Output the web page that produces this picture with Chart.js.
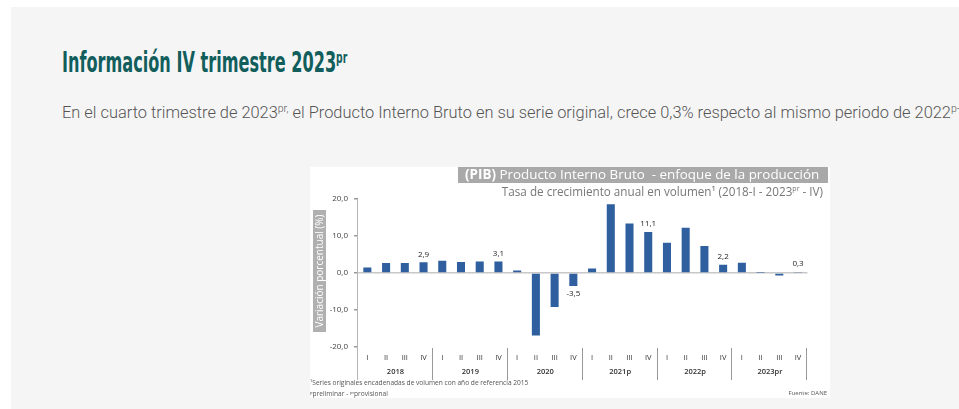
<!DOCTYPE html>
<html lang="es">
<head>
<meta charset="utf-8">
<script src="https://cdn.jsdelivr.net/npm/chart.js@4.4.1/dist/chart.umd.min.js"></script>
<style>
  html, body { margin: 0; padding: 0; background: #fff; overflow: hidden; }
  #panel {
    position: absolute; left: 11px; top: 7px; width: 960px; height: 410px;
    background: #f5f5f5;
  }
  #titulo {
    position: absolute; left: 62px; top: 46px; margin: 0;
    font-family: "Liberation Sans Narrow", "DejaVu Sans Condensed", sans-serif;
    font-weight: bold; font-size: 28px; color: #115e5c; white-space: nowrap;
    transform: scaleX(0.64); transform-origin: left top;
  }
  #titulo sup { font-size: 16px; vertical-align: 9px; }
  #texto {
    position: absolute; left: 62px; top: 103px; margin: 0; width: 897px;
    font-family: Roboto, sans-serif; font-weight: 300; font-size: 16.4px;
    color: #555; white-space: nowrap; overflow: hidden;
  }
  #texto sup { font-size: 10.5px; vertical-align: 6px; line-height: 0; }
  #caja {
    position: absolute; left: 310px; top: 167px; width: 520px; height: 231px;
    background: #fff;
  }
</style>
</head>
<body>
<div id="panel"></div>
<h2 id="titulo">Información IV trimestre 2023<sup>pr</sup></h2>
<p id="texto">En el cuarto trimestre de 2023<sup>pr,</sup> el Producto Interno Bruto en su serie original, crece 0,3% respecto al mismo periodo de 2022<sup>p-</sup></p>
<div id="caja"><canvas id="grafico" width="520" height="231"></canvas></div>
<script>
// Datos: variación anual del PIB (%), por trimestre
const trimestres = ['I', 'II', 'III', 'IV'];
const anios = ['2018', '2019', '2020', '2021p', '2022p', '2023pr'];
const variacion = [
  1.5, 2.7, 2.7, 2.9,
  3.3, 3.0, 3.1, 3.1,
  0.7, -16.9, -9.2, -3.5,
  1.2, 18.6, 13.4, 11.1,
  8.2, 12.2, 7.3, 2.2,
  2.8, 0.1, -0.7, 0.3
];
// índices de las barras que llevan etiqueta (cuarto trimestre)
const conEtiqueta = [3, 7, 11, 15, 19, 23];
const yTicks = [-20, -10, 0, 10, 20];

const labels = [];
anios.forEach(() => trimestres.forEach(t => labels.push(t)));

const fuente = '"Open Sans", sans-serif';

const decoracion = {
  id: 'decoracion',
  afterDraw(chart) {
    const ctx = chart.ctx;
    const area = chart.chartArea;
    ctx.save();
    // barra de título
    ctx.fillStyle = '#a9a9a9';
    ctx.fillRect(148, 0, 370, 16);
    ctx.textBaseline = 'middle';
    ctx.textAlign = 'left';
    ctx.fillStyle = '#fff';
    ctx.font = 'bold 13.4px ' + fuente;
    ctx.fillText('(PIB)', 155, 8.5);
    const w = ctx.measureText('(PIB) ').width;
    ctx.font = '13.4px ' + fuente;
    ctx.fillText('Producto Interno Bruto  - enfoque de la producción', 155 + w, 8.5);

    // subtítulo
    ctx.fillStyle = '#777';
    ctx.textAlign = 'right';
    ctx.font = '11.7px ' + fuente;
    ctx.fillText(' - IV)', 513, 26);
    let px = 513 - ctx.measureText(' - IV)').width;
    ctx.font = '7px ' + fuente;
    ctx.fillText('pr', px, 22);
    px -= ctx.measureText('pr').width;
    ctx.font = '11.7px ' + fuente;
    ctx.fillText('Tasa de crecimiento anual en volumen\u00b9 (2018-I - 2023', px, 26);

    // título eje y
    ctx.fillStyle = '#b0b0b0';
    ctx.fillRect(3, 43, 13, 122);
    ctx.translate(10, 104);
    ctx.rotate(-Math.PI / 2);
    ctx.textAlign = 'center';
    ctx.fillStyle = '#fff';
    ctx.font = '10px ' + fuente;
    ctx.fillText('Variación porcentual (%)', 0, 0.5);
    ctx.setTransform(1, 0, 0, 1, 0, 0);

    // eje y y separadores de años
    ctx.strokeStyle = '#b5b5b5';
    ctx.lineWidth = 1;
    ctx.beginPath();
    ctx.moveTo(Math.round(area.left) - 0.5, area.top);
    ctx.lineTo(Math.round(area.left) - 0.5, 213);
    ctx.stroke();
    const paso = (area.right - area.left) / labels.length;
    ctx.strokeStyle = '#999';
    for (let g = 1; g <= anios.length; g++) {
      const sx = Math.round(area.left + g * 4 * paso) - 0.5;
      ctx.beginPath();
      ctx.moveTo(sx, 181);
      ctx.lineTo(sx, 213);
      ctx.stroke();
    }
    // años
    ctx.fillStyle = '#333';
    ctx.font = '600 7.5px ' + fuente;
    ctx.textAlign = 'center';
    anios.forEach((a, g) => {
      const cx = area.left + (g * 4 + 2) * paso;
      ctx.fillText(a, cx, 205);
    });

    // notas
    ctx.fillStyle = '#555';
    ctx.textAlign = 'left';
    ctx.font = '6.6px ' + fuente;
    ctx.fillText('\u00b9Series originales encadenadas de volumen con año de referencia 2015', 0, 216);
    ctx.fillText('\u1d56preliminar - \u1d56\u02b3provisional', 0, 227);
    ctx.textAlign = 'right';
    ctx.font = '6px ' + fuente;
    ctx.fillText('Fuente: DANE', 517, 226);
    ctx.restore();
  },
  afterDatasetsDraw(chart) {
    const ctx = chart.ctx;
    const meta = chart.getDatasetMeta(0);
    ctx.save();
    ctx.fillStyle = '#222';
    ctx.font = '8px ' + fuente;
    ctx.textAlign = 'center';
    conEtiqueta.forEach(i => {
      const bar = meta.data[i];
      const v = variacion[i];
      const txt = v.toFixed(1).replace('.', ',');
      if (v >= 0) {
        ctx.textBaseline = 'bottom';
        ctx.fillText(txt, bar.x, bar.y - 4);
      } else {
        ctx.textBaseline = 'top';
        ctx.fillText(txt, bar.x, bar.y + 4);
      }
    });
    ctx.restore();
  }
};

new Chart(document.getElementById('grafico'), {
  type: 'bar',
  data: {
    labels: labels,
    datasets: [{
      data: variacion,
      backgroundColor: (c) => {
        const el = c.element;
        if (!el || el.width === undefined) return '#2f5f9e';
        const g = c.chart.ctx.createLinearGradient(el.x - el.width / 2, 0, el.x + el.width / 2, 0);
        g.addColorStop(0, '#24508a');
        g.addColorStop(0.5, '#4a7bbd');
        g.addColorStop(1, '#24508a');
        return g;
      },
      borderWidth: 0,
      barPercentage: 0.43,
      categoryPercentage: 1
    }]
  },
  options: {
    responsive: false,
    animation: false,
    layout: { padding: { top: 32, right: 22.6, left: 0, bottom: 0 } },
    plugins: {
      legend: { display: false },
      title: { display: false },
      tooltip: { enabled: false }
    },
    scales: {
      x: {
        grid: { display: false, drawTicks: false },
        border: { display: false },
        ticks: { color: '#333', font: { family: fuente, size: 7.5 }, padding: 6, maxRotation: 0, autoSkip: false },
        afterFit: (s) => { s.height = 51; }
      },
      y: {
        min: -20,
        max: 20,
        afterBuildTicks: (s) => { s.ticks = yTicks.map(v => ({ value: v })); },
        afterFit: (s) => { s.width = 48; },
        border: { display: false },
        grid: {
          color: (c) => c.tick && c.tick.value === 0 ? '#c8c8c8' : 'transparent',
          lineWidth: 1.5,
          tickColor: '#999',
          tickLength: 4
        },
        ticks: {
          color: '#444',
          padding: 6,
          font: { family: fuente, size: 8 },
          callback: (v) => Number(v).toFixed(1).replace('.', ',')
        }
      }
    }
  },
  plugins: [decoracion]
});
</script>
</body>
</html>
